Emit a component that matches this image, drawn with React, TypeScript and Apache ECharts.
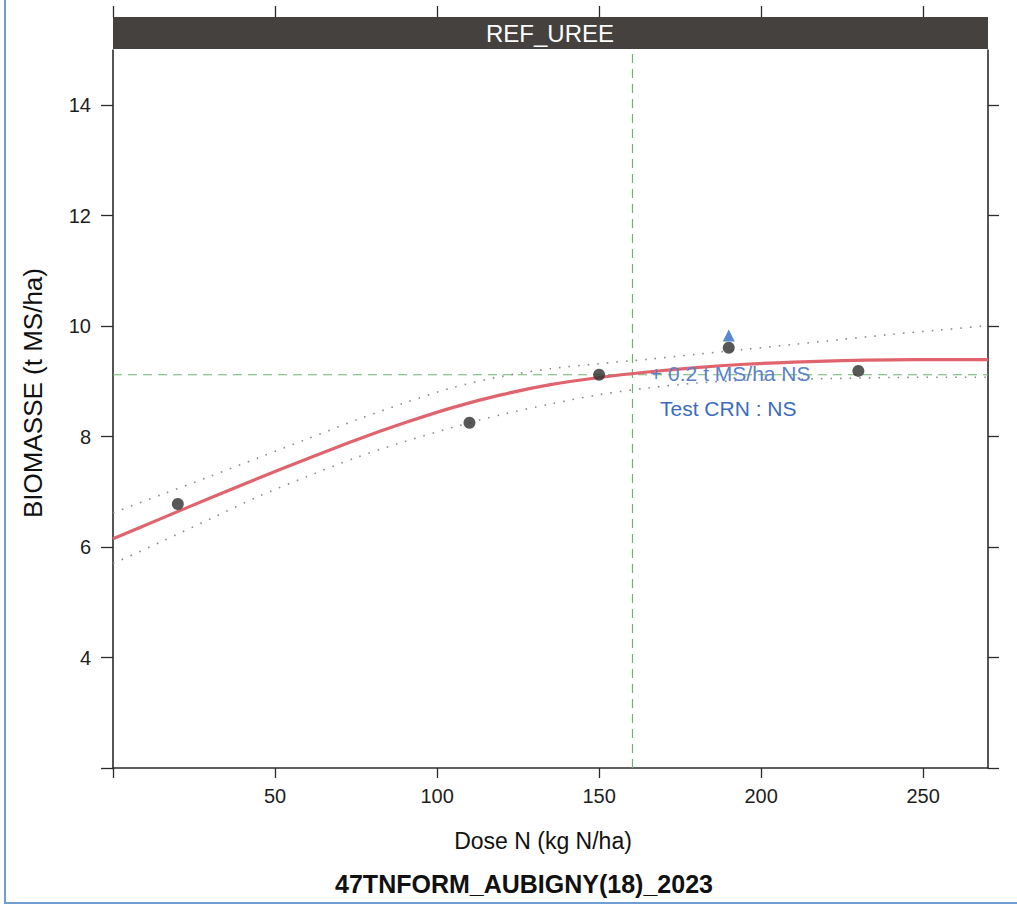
import React, { useEffect, useRef } from 'react';
import * as echarts from 'echarts';

// ---- Data ----
const doseN = [20, 110, 150, 190, 230];
const biomasse = [6.78, 8.25, 9.12, 9.61, 9.19];

const triangleDose = [190];
const triangleBiomasse = [9.83];

const bandDose = [0, 15, 30, 45, 60, 75, 90, 105, 120, 135, 150, 165, 180, 195, 210, 225, 240, 255, 270];
const curveBiomasse = [6.15, 6.52, 6.89, 7.25, 7.6, 7.94, 8.25, 8.53, 8.76, 8.94, 9.07, 9.17, 9.25, 9.31, 9.35, 9.375, 9.39, 9.395, 9.395];
const upperBiomasse = [6.62, 6.95, 7.28, 7.62, 7.96, 8.3, 8.61, 8.89, 9.09, 9.23, 9.32, 9.4, 9.49, 9.58, 9.67, 9.76, 9.85, 9.93, 10.01];
const lowerBiomasse = [5.7, 6.1, 6.51, 6.92, 7.28, 7.62, 7.91, 8.17, 8.4, 8.59, 8.76, 8.88, 8.97, 9.02, 9.04, 9.055, 9.07, 9.075, 9.075];

const optimumDose = 160.3;
const optimumBiomasse = 9.12;

const xTicks = [0, 50, 100, 150, 200, 250];
const xTickLabels = [50, 100, 150, 200, 250];
const yTicks = [2, 4, 6, 8, 10, 12, 14];
const yTickLabels = [4, 6, 8, 10, 12, 14];

const xMin = 0;
const xMax = 270;
const yMin = 2;
const yMax = 15;

const panelTitle = 'REF_UREE';
const xTitle = 'Dose N (kg N/ha)';
const yTitle = 'BIOMASSE (t MS/ha)';
const mainTitle = '47TNFORM_AUBIGNY(18)_2023';
const note1 = '+ 0.2 t MS/ha NS';
const note2 = 'Test CRN : NS';

const FONT = '"Liberation Sans", Arial, Helvetica, sans-serif';

const zip = (a: number[], b: number[]) => a.map((v, i) => [v, b[i]]);

export default function App() {
  const ref = useRef<HTMLDivElement>(null);

  useEffect(() => {
    if (!ref.current) return;
    const chart = echarts.init(ref.current, null, { renderer: 'svg' });
    const axisColor = '#2a2a2a';
    chart.setOption({
      animation: false,
      backgroundColor: '#ffffff',
      grid: { left: 113, right: 29, top: 50, bottom: 139, containLabel: false },
      xAxis: [
        {
          type: 'value',
          position: 'bottom',
          min: xMin,
          max: xMax,
          axisLine: { show: true, onZero: false, lineStyle: { color: axisColor, width: 1.6 } },
          axisTick: { show: true, length: 10, customValues: xTicks, lineStyle: { color: axisColor, width: 1.3 } },
          axisLabel: { show: true, customValues: xTickLabels, margin: 18, fontSize: 20, color: '#1e1e1e', fontFamily: FONT },
          splitLine: { show: false },
        },
        {
          type: 'value',
          position: 'top',
          offset: 33,
          min: xMin,
          max: xMax,
          axisLine: { show: false },
          axisTick: { show: true, length: 11, customValues: xTicks, lineStyle: { color: axisColor, width: 1.3 } },
          axisLabel: { show: false },
          splitLine: { show: false },
        },
      ],
      yAxis: [
        {
          type: 'value',
          position: 'left',
          min: yMin,
          max: yMax,
          axisLine: { show: true, onZero: false, lineStyle: { color: axisColor, width: 1.6 } },
          axisTick: { show: true, length: 12, customValues: yTicks, lineStyle: { color: axisColor, width: 1.3 } },
          axisLabel: { show: true, customValues: yTickLabels, margin: 22, fontSize: 20, color: '#1e1e1e', fontFamily: FONT },
          splitLine: { show: false },
        },
        {
          type: 'value',
          position: 'right',
          min: yMin,
          max: yMax,
          axisLine: { show: true, onZero: false, lineStyle: { color: axisColor, width: 1.6 } },
          axisTick: { show: true, length: 11, customValues: yTicks, lineStyle: { color: axisColor, width: 1.3 } },
          axisLabel: { show: false },
          splitLine: { show: false },
        },
      ],
      series: [
        {
          type: 'line',
          data: [[optimumDose, yMin], [optimumDose, yMax]],
          symbol: 'none',
          lineStyle: { color: '#6cb46c', width: 1.2, type: [9, 6] },
          z: 1,
        },
        {
          type: 'line',
          data: [[xMin, optimumBiomasse], [xMax, optimumBiomasse]],
          symbol: 'none',
          lineStyle: { color: '#6cb46c', width: 1.2, type: [9, 6] },
          z: 1,
        },
        {
          type: 'line',
          data: zip(bandDose, upperBiomasse),
          symbol: 'none',
          smooth: 0.3,
          lineStyle: { color: '#8c8c8c', width: 1.6, type: [1.6, 8] },
          z: 2,
        },
        {
          type: 'line',
          data: zip(bandDose, lowerBiomasse),
          symbol: 'none',
          smooth: 0.3,
          lineStyle: { color: '#8c8c8c', width: 1.6, type: [1.6, 8] },
          z: 2,
        },
        {
          type: 'line',
          data: zip(bandDose, curveBiomasse),
          symbol: 'none',
          smooth: 0.3,
          lineStyle: { color: '#e0646e', width: 3.2 },
          z: 3,
        },
        {
          type: 'scatter',
          data: zip(doseN, biomasse),
          symbol: 'circle',
          symbolSize: 12,
          itemStyle: { color: '#2e2e2e' },
          z: 4,
        },
        {
          type: 'scatter',
          data: zip(triangleDose, triangleBiomasse),
          symbol: 'triangle',
          symbolSize: 12,
          itemStyle: { color: '#2f6cc0' },
          z: 5,
        },
      ],
      graphic: [
        {
          type: 'rect',
          shape: { x: 113, y: 17, width: 875, height: 32 },
          style: { fill: '#45413e' },
          z: 10,
        },
        {
          type: 'text',
          x: 550,
          y: 33,
          style: { text: panelTitle, fill: '#ffffff', font: `24px ${FONT}`, align: 'center', verticalAlign: 'middle' },
          z: 11,
        },
        {
          type: 'text',
          x: 650,
          y: 373,
          style: { text: note1, fill: '#5a82c8', font: `21px ${FONT}`, align: 'left', verticalAlign: 'middle' },
          z: 11,
        },
        {
          type: 'text',
          x: 660,
          y: 408,
          style: { text: note2, fill: '#3e6cbd', font: `21px ${FONT}`, align: 'left', verticalAlign: 'middle' },
          z: 11,
        },
        {
          type: 'text',
          x: 543,
          y: 841,
          style: { text: xTitle, fill: '#111', font: `23px ${FONT}`, align: 'center', verticalAlign: 'middle' },
        },
        {
          type: 'text',
          x: 524,
          y: 884,
          style: { text: mainTitle, fill: '#111', font: `bold 25px ${FONT}`, align: 'center', verticalAlign: 'middle' },
        },
        {
          type: 'text',
          x: 33,
          y: 393,
          rotation: Math.PI / 2,
          style: { text: yTitle, fill: '#111', font: `26px ${FONT}`, align: 'center', verticalAlign: 'middle' },
        },
        {
          type: 'polyline',
          shape: { points: [[5, 0], [5, 903], [1017, 903]] },
          style: { stroke: '#6f9fd2', lineWidth: 2, fill: 'none' },
        },
      ],
    });
    return () => chart.dispose();
  }, []);

  return (
    <div
      ref={ref}
      style={{ position: 'fixed', left: 0, top: 0, width: 1017, height: 907, background: '#fff' }}
    />
  );
}
